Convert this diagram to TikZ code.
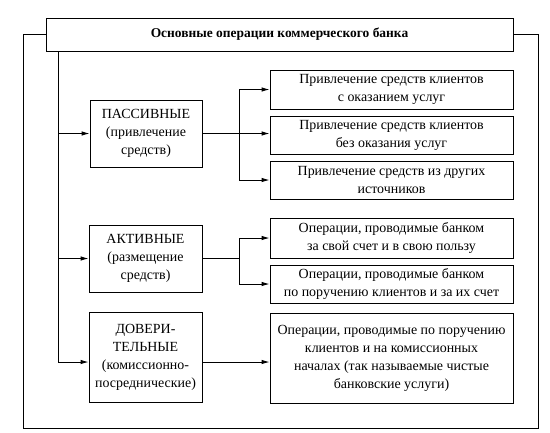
\documentclass[tikz,border=0pt]{standalone}
\usepackage{fontspec}
\setmainfont{Liberation Serif}
\usetikzlibrary{arrows.meta}
\begin{document}
\begin{tikzpicture}[x=1bp,y=-1bp,
  box/.style={draw, line width=0.9pt, align=center, inner sep=1pt,
    font=\fontsize{14}{18}\selectfont},
  conn/.style={line width=0.9pt},
  arr/.style={line width=0.9pt, -{Latex[length=8pt,width=4.5pt]}}]
\useasboundingbox (0,0) rectangle (550,432);
% title
\node[box, minimum width=467bp, minimum height=33bp, font=\fontsize{13.5}{16}\selectfont\bfseries] (title) at (279.5,34.5) {Основные операции коммерческого банка};
% left column
\node[box, minimum width=112bp, minimum height=67bp] (P) at (146,133.5) {ПАССИВНЫЕ\\(привлечение\\средств)};
\node[box, minimum width=113bp, minimum height=67bp] (A) at (145.5,258.5) {АКТИВНЫЕ\\(размещение\\средств)};
\node[box, minimum width=113bp, minimum height=90bp] (D) at (145.5,357) {ДОВЕРИ-\\ТЕЛЬНЫЕ\\(комиссионно-\\посреднические)};
% right column
\node[box, minimum width=243bp, minimum height=39bp] (R1) at (391.5,89.5) {Привлечение средств клиентов\\с оказанием услуг};
\node[box, minimum width=243bp, minimum height=38bp] (R2) at (391.5,135) {Привлечение средств клиентов\\без оказания услуг};
\node[box, minimum width=243bp, minimum height=38bp] (R3) at (391.5,180) {Привлечение средств из других\\источников};
\node[box, minimum width=243bp, minimum height=40bp] (A1) at (391.5,238) {Операции, проводимые банком\\за свой счет и в свою пользу};
\node[box, minimum width=243bp, minimum height=38bp] (A2) at (391.5,284) {Операции, проводимые банком\\по поручению клиентов и за их счет};
\node[box, minimum width=243bp, minimum height=90bp] (DR) at (391.5,358) {Операции, проводимые по поручению\\клиентов и на комиссионных\\началах (так называемые чистые\\банковские услуги)};
% coordinates
\coordinate (vt) at (58,0 |- title.south);
\coordinate (vb) at (58,362);
\coordinate (ol) at (23,428);
\coordinate (or) at (538,428);
\coordinate (pb) at (239,0 |- P.east);
\coordinate (ab) at (239,0 |- A.east);
% outer frame
\draw[conn] (title.west) -| (ol) -- (or) |- (title.east);
% inner spine
\draw[conn] (vt) -- (vb);
\draw[arr] (vt |- P.west) -- (P.west);
\draw[arr] (vt |- A.west) -- (A.west);
\draw[arr] (vb) -- (D.west |- vb);
% passive branches
\draw[arr] (P.east) -- (R2.west |- P.east);
\draw[conn] (pb |- R1.west) -- (pb |- R3.west);
\draw[arr] (pb |- R1.west) -- (R1.west);
\draw[arr] (pb |- R3.west) -- (R3.west);
% active branches
\draw[conn] (A.east) -- (ab);
\draw[conn] (ab |- A1.west) -- (ab |- A2.west);
\draw[arr] (ab |- A1.west) -- (A1.west);
\draw[arr] (ab |- A2.west) -- (A2.west);
% trust
\draw[arr] (D.east |- vb) -- (DR.west |- vb);
\end{tikzpicture}
\end{document}
